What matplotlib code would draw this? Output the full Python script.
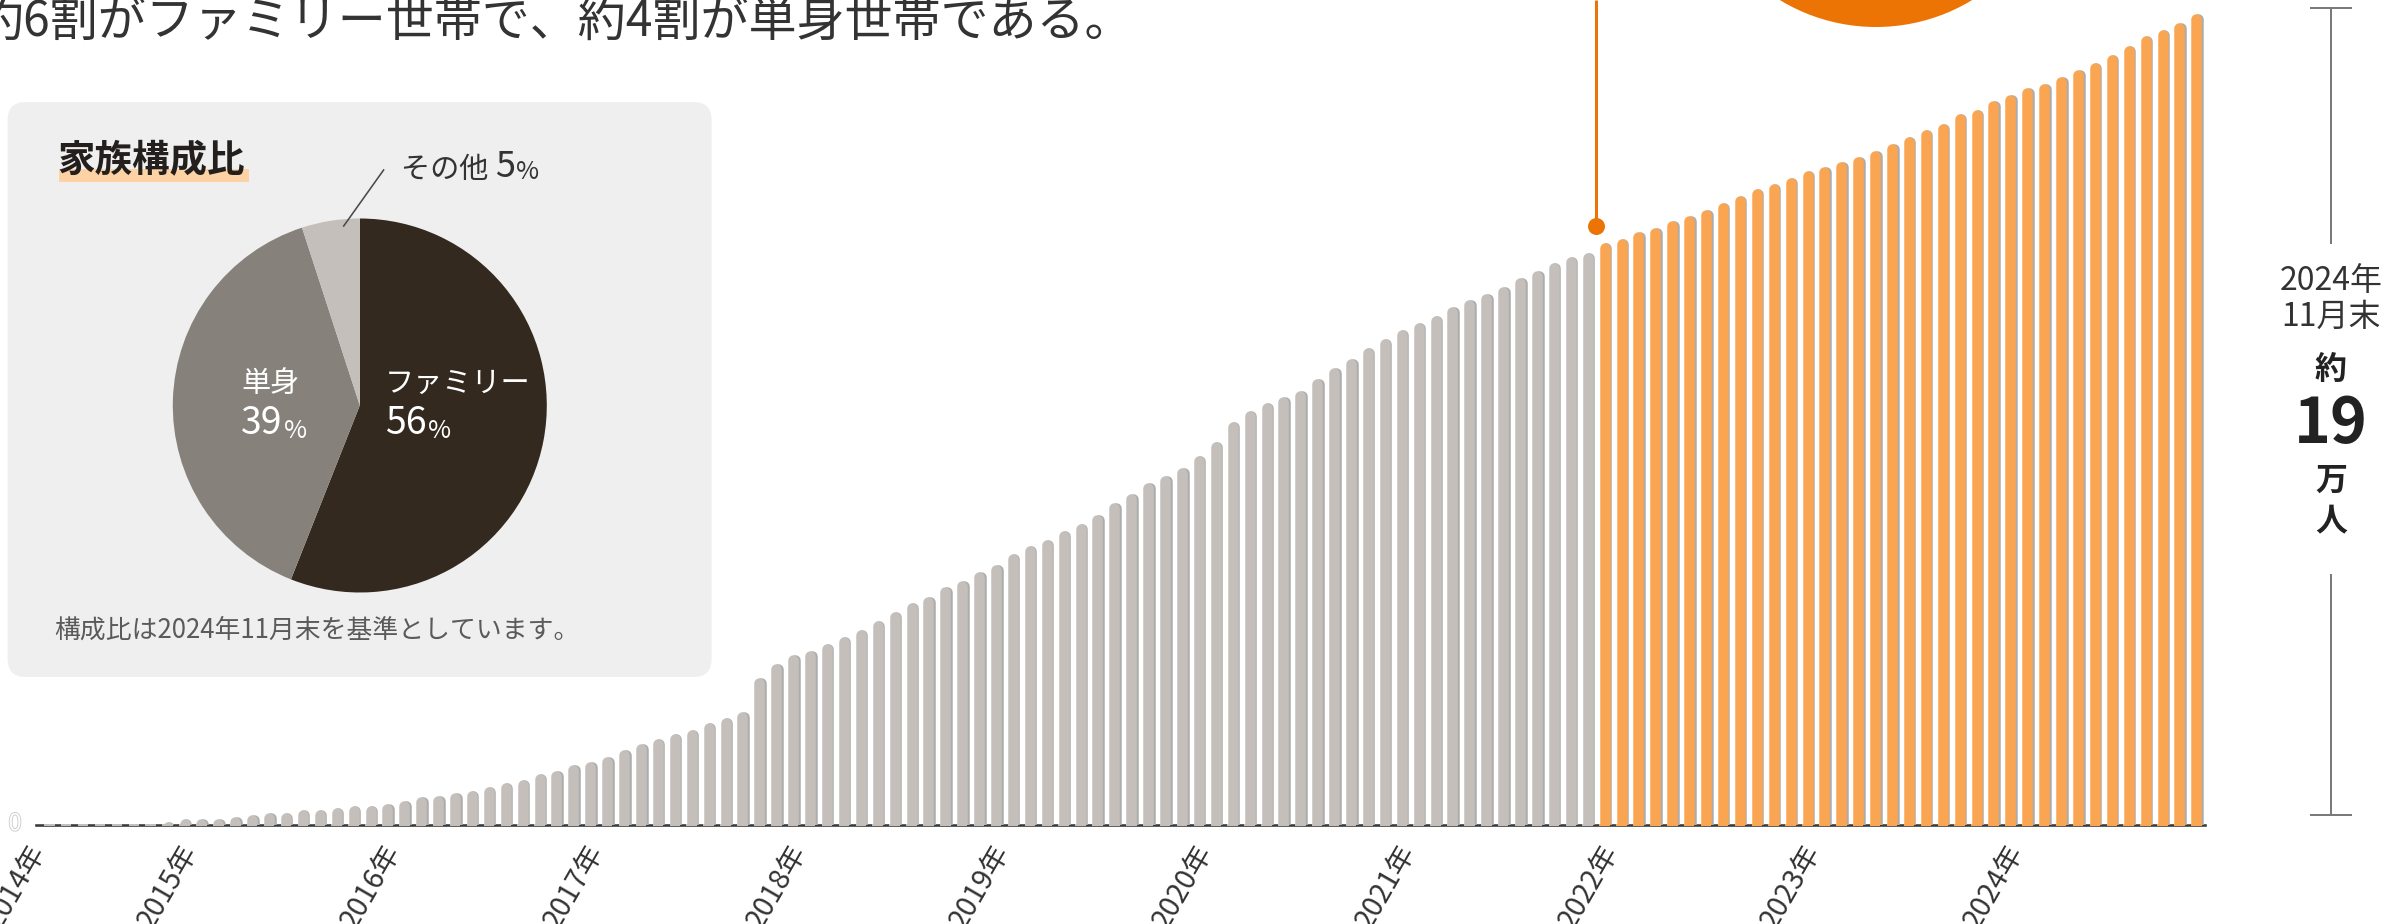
import numpy as np
import matplotlib
matplotlib.use("Agg")
import matplotlib.pyplot as plt
from matplotlib.patches import FancyBboxPatch, Circle, Rectangle
from matplotlib.transforms import ScaledTranslation
import matplotlib.patheffects as pe

plt.rcParams['font.family'] = ['Noto Sans CJK JP', 'DejaVu Sans']

# =========================
# データ
# =========================
# 月末の人数（万人）：2014年4月〜2024年11月
residents = [
    0, 0, 0, 0, 0, 0, 0, 0.08, 0.14, 0.14, 0.14, 0.19,
    0.24, 0.28, 0.28, 0.35, 0.35, 0.41, 0.45, 0.45, 0.50, 0.56, 0.66, 0.69,
    0.76, 0.81, 0.90, 0.98, 1.07, 1.19, 1.28, 1.40, 1.49, 1.61, 1.76, 1.91,
    2.03, 2.13, 2.24, 2.40, 2.51, 2.66, 3.46, 3.78, 3.99, 4.09, 4.25, 4.42,
    4.57, 4.79, 5.00, 5.20, 5.35, 5.57, 5.73, 5.94, 6.10, 6.36, 6.53, 6.69,
    6.90, 7.06, 7.27, 7.54, 7.75, 8.01, 8.17, 8.38, 8.66, 8.97, 9.45, 9.71,
    9.88, 10.02, 10.18, 10.45, 10.72, 10.93, 11.19, 11.40, 11.61, 11.77, 11.94, 12.15,
    12.31, 12.45, 12.62, 12.83, 12.99, 13.16, 13.31, 13.41, 13.63, 13.73, 13.89, 14.00,
    14.16, 14.27, 14.42, 14.58, 14.75, 14.90, 15.01, 15.17, 15.32, 15.43, 15.54, 15.65,
    15.80, 15.96, 16.12, 16.28, 16.43, 16.65, 16.76, 16.97, 17.10, 17.26, 17.37, 17.53,
    17.68, 17.85, 18.05, 18.26, 18.48, 18.63, 18.79, 19.00,
]
START_MONTH = 4          # 2014年4月始まり
year_labels = ["2014年", "2015年", "2016年", "2017年", "2018年", "2019年",
               "2020年", "2021年", "2022年", "2023年", "2024年"]
HIGHLIGHT_FROM = 92      # ここからオレンジ

share_labels = ["ファミリー", "単身", "その他"]
share_values = [56, 39, 5]
share_colors = ["#33291f", "#86817b", "#c4bfba"]

GRAY = "#c4bfba"
ORANGE = "#f9a552"
DARK_ORANGE = "#ec7404"
TEXT = "#333333"

# =========================
# レイアウト（ピクセル基準）
# =========================
W, H, DPI = 2384, 924, 100
BASE = 825          # 棒グラフの基線
STEP = 16.906       # 棒の間隔
X0 = 49.3           # 最初の棒の中心
PX_PER_MAN = 42.69  # 1万人あたりのピクセル
BAR_W = 10.5        # 棒の幅(px)
PT = 72 / DPI

fig = plt.figure(figsize=(W / DPI, H / DPI), dpi=DPI)
fig.patch.set_facecolor("white")

# 背景レイヤー（ピクセル座標）
bg = fig.add_axes([0, 0, 1, 1])
bg.set_xlim(0, W)
bg.set_ylim(H, 0)
bg.axis("off")

# 見出し（左端は切れている）
bg.text(-24, 37, "約6割がファミリー世帯で、約4割が単身世帯である。",
        fontsize=34.6, color=TEXT, ha="left", va="baseline")

# 家族構成比パネル
bg.add_patch(FancyBboxPatch((7.6, 102), 704, 575,
                            boxstyle="round,pad=0,rounding_size=18",
                            facecolor="#efefef", edgecolor="none"))
bg.add_patch(Rectangle((59, 169), 190, 13, facecolor="#fdd2a4", edgecolor="none"))
bg.text(57, 160, "家族構成比", fontsize=27, fontweight="bold", color="#231f1c",
        ha="left", va="center")
bg.text(54, 630, "構成比は2024年11月末を基準としています。", fontsize=18.6,
        color="#5a5a5a", ha="left", va="center")

# 上部の円
bg.add_patch(Circle((1876, -158), 185, facecolor=DARK_ORANGE, edgecolor="none"))

# 右側の目盛り
bx = 2331
for y0, y1 in [(8, 243), (575, 815)]:
    bg.plot([bx, bx], [y0, y1], color="#7a7a7a", lw=2 * PT)
for yt in (8, 815):
    bg.plot([bx - 20, bx + 20], [yt, yt], color="#7a7a7a", lw=2 * PT)
bg.text(bx, 281, "2024年", fontsize=23, color=TEXT, ha="center", va="center")
bg.text(bx, 317, "11月末", fontsize=23, color=TEXT, ha="center", va="center")
bg.text(bx, 370, "約", fontsize=23, fontweight="bold", color="#222222", ha="center", va="center")
bg.text(bx, 424, "19", fontsize=45, fontweight="bold", color="#222222", ha="center", va="center")
bg.text(bx, 481, "万", fontsize=23, fontweight="bold", color="#222222", ha="center", va="center")
bg.text(bx, 521, "人", fontsize=23, fontweight="bold", color="#222222", ha="center", va="center")

# 0 ラベル（白抜き）
t0 = bg.text(15, 824, "0", fontsize=17, color="white", ha="center", va="center")
t0.set_path_effects([pe.withStroke(linewidth=1.2, foreground="#c8c8c8")])

# =========================
# 棒グラフ
# =========================
ax = fig.add_axes([36 / W, (H - BASE) / H, (2205 - 36) / W, BASE / H])
ax.set_xlim((36 - X0) / STEP, (2205 - X0) / STEP)
ax.set_ylim(0, BASE / PX_PER_MAN)
ax.patch.set_alpha(0)
for s in ax.spines.values():
    s.set_visible(False)
ax.set_yticks([])

vals = np.array(residents, dtype=float)
x = np.arange(len(vals))
bar_colors = [ORANGE if i >= HIGHLIGHT_FROM else GRAY for i in x]

py = 1 / PX_PER_MAN          # 1px（y方向, データ単位）
r = BAR_W / 2 * py           # 角丸の半径
mask = vals > 0
xs = x[mask]
top = vals[mask] - r
cols = [c for c, m in zip(bar_colors, mask) if m]

# 右側の影
ax.vlines(xs + 1.5 / STEP, -r, top, colors="#acacac", linewidths=BAR_W * PT,
          capstyle="round", zorder=2)
ax.vlines(xs, -r, top, colors=cols, linewidths=BAR_W * PT,
          capstyle="round", zorder=3)

# 基線
ax.axhline(0, color="#3a3a3a", lw=2.6 * PT, zorder=1, clip_on=False)
ax.bar(x, 2.6 * py, bottom=-1.3 * py, width=BAR_W / STEP, color=bar_colors,
       linewidth=0, zorder=4, clip_on=False)

# 年ラベル
tick_idx = [0] + [(i * 12) - (START_MONTH - 1) for i in range(1, len(year_labels))]
ax.set_xticks(tick_idx)
ax.set_xticklabels(year_labels, rotation=60, ha="right", va="top",
                   rotation_mode="anchor", fontsize=20.5, color=TEXT)
ax.tick_params(axis="x", length=0, pad=10)
shift = ScaledTranslation(-23 / DPI, 0, fig.dpi_scale_trans)
for lab in ax.get_xticklabels():
    lab.set_transform(lab.get_transform() + shift)

# オレンジのマーカー線
mark_x = HIGHLIGHT_FROM - 0.5
mark_y = vals[HIGHLIGHT_FROM] + 0.4
ax.vlines(mark_x, mark_y, ax.get_ylim()[1], color=DARK_ORANGE, lw=3 * PT,
          zorder=6, clip_on=False)
ax.plot([mark_x], [mark_y], "o", ms=17 * PT, color=DARK_ORANGE, mec="none",
        zorder=7, clip_on=False)

# =========================
# 円グラフ
# =========================
R = 187
cx, cy = 359.8, 405.5
pax = fig.add_axes([(cx - R) / W, (H - cy - R) / H, 2 * R / W, 2 * R / H])
pax.pie(share_values, colors=share_colors, startangle=90, counterclock=False,
        radius=1, wedgeprops=dict(linewidth=0))
pax.set_xlim(-1, 1)
pax.set_ylim(-1, 1)


def pct_label(axes, xy, num, color, size_num=27, size_pct=18):
    t = axes.text(xy[0], xy[1], num, fontsize=size_num, color=color,
                  ha="left", va="center")
    axes.annotate("%", xy=(1, 0), xycoords=t, xytext=(1, 0),
                  textcoords="offset points", fontsize=size_pct, color=color,
                  ha="left", va="bottom")
    return t


lx_f = (385 - cx) / R
lx_s = (241 - cx) / R
ly_name = (cy - 384) / R
ly_num = (cy - 424) / R
pax.text(lx_f, ly_name, share_labels[0], fontsize=21, color="white", ha="left", va="center")
pct_label(pax, (lx_f, ly_num), str(share_values[0]), "white")
pax.text(lx_s, ly_name, share_labels[1], fontsize=21, color="white", ha="left", va="center")
pct_label(pax, (lx_s, ly_num), str(share_values[1]), "white")

# その他（引き出し線）
pax.plot([(383.6 - cx) / R, (343.7 - cx) / R], [(cy - 170) / R, (cy - 226) / R],
         color="#4a4a4a", lw=1.6 * PT, clip_on=False)
t_o = pax.text((401 - cx) / R, (cy - 170) / R, share_labels[2] + " ", fontsize=21,
               color=TEXT, ha="left", va="center")
t5 = pax.annotate(str(share_values[2]), xy=(1, 0), xycoords=t_o, xytext=(0, 0),
                  textcoords="offset points", fontsize=26, color=TEXT,
                  ha="left", va="bottom")
pax.annotate("%", xy=(1, 0), xycoords=t5, xytext=(1, 0), textcoords="offset points",
             fontsize=18, color=TEXT, ha="left", va="bottom")

fig.savefig("out.png", dpi=DPI)
